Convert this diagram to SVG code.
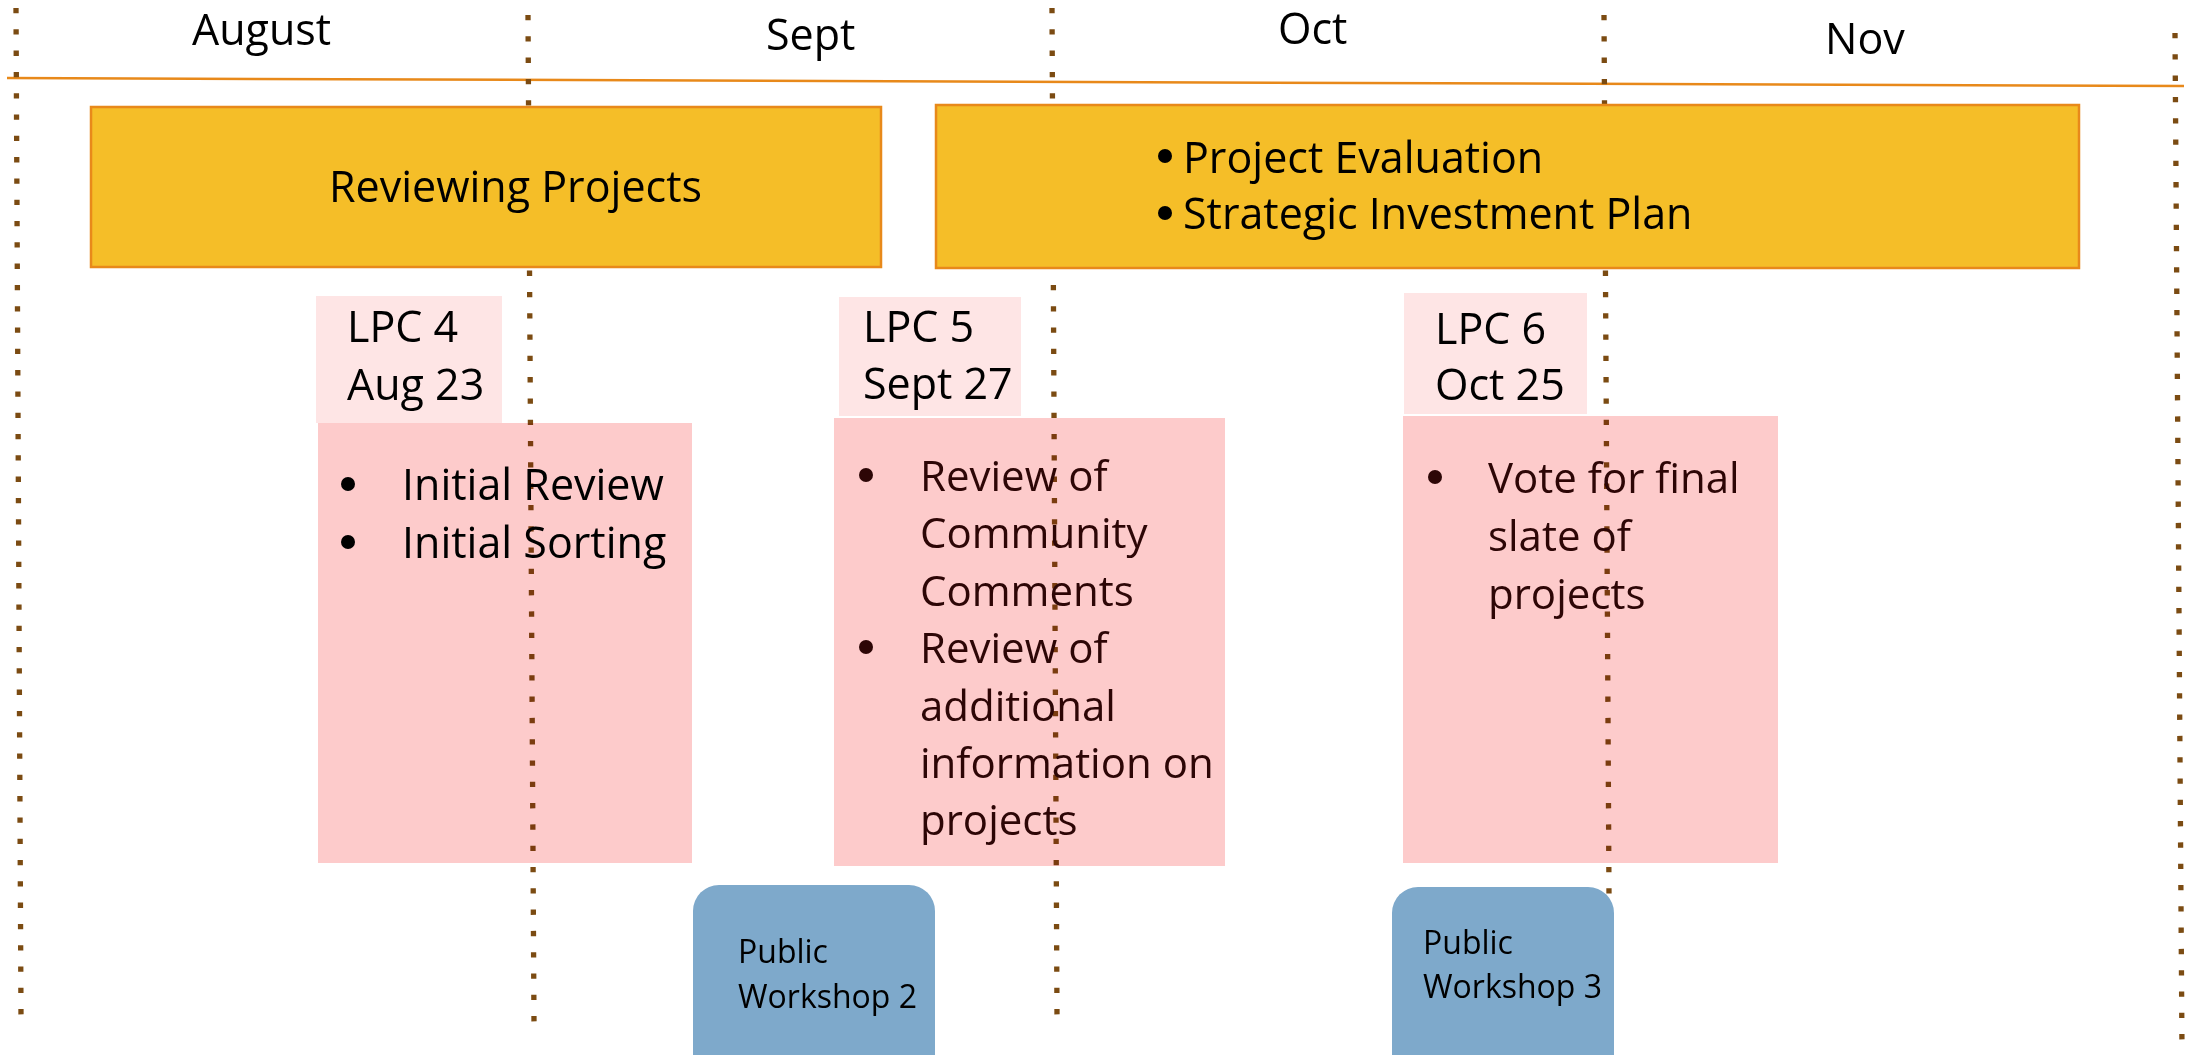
<svg xmlns="http://www.w3.org/2000/svg" width="2188" height="1055" viewBox="0 0 2188 1055">
  <style>
    text { font-family: "Open Sans", "Noto Sans", "Liberation Sans", sans-serif; }
    .month { font-size: 43px; fill: #000; }
    .phase { fill: #F5BE28; stroke: #E8891A; stroke-width: 2.5; }
    .phase-text { font-size: 43px; fill: #000; }
    .lpc { fill: #FEE5E5; }
    .lpc-text { font-size: 43px; fill: #000; }
    .tasks { fill: #FDCBCB; mix-blend-mode: multiply; }
    .task-text { font-size: 42px; fill: #2D0606; }
    .workshop { fill: #7EA9CB; }
    .workshop-text { font-size: 32px; fill: #000; }
    .divider { stroke: #7B4B12; stroke-width: 5.3; stroke-dasharray: 5.3 16; fill: none; }
    .axis { stroke: #E8891A; stroke-width: 2.5; fill: none; }
  </style>

  <rect width="2188" height="1055" fill="#fff"/>

  <!-- month headings -->
  <g id="months">
    <text class="month" x="192" y="45">August</text>
    <text class="month" x="766" y="50">Sept</text>
    <text class="month" x="1278" y="44">Oct</text>
    <text class="month" x="1825" y="54">Nov</text>
  </g>

  <!-- timeline axis -->
  <line class="axis" x1="7" y1="78" x2="2184" y2="86"/>

  <!-- month dividers -->
  <g id="dividers">
    <line class="divider" x1="16" y1="8" x2="21" y2="1015"/>
    <line class="divider" x1="528" y1="15" x2="534" y2="1022"/>
    <line class="divider" x1="1052" y1="8" x2="1057" y2="1015"/>
    <line class="divider" x1="1604" y1="15" x2="1609" y2="895"/>
    <line class="divider" x1="2175" y1="33" x2="2182" y2="1050"/>
  </g>

  <!-- phase bars -->
  <g id="phase-reviewing">
    <rect class="phase" x="91" y="107" width="790" height="160"/>
    <text class="phase-text" x="329" y="202">Reviewing Projects</text>
  </g>
  <g id="phase-evaluation">
    <rect class="phase" x="936" y="105" width="1143" height="163"/>
    <circle cx="1165" cy="156" r="7" fill="#000"/>
    <text class="phase-text" x="1183" y="173">Project Evaluation</text>
    <circle cx="1165" cy="213" r="7" fill="#000"/>
    <text class="phase-text" x="1183" y="229">Strategic Investment Plan</text>
  </g>

  <!-- LPC meeting 4 -->
  <g id="lpc4">
    <rect class="lpc" x="316" y="296" width="186" height="127"/>
    <text class="lpc-text" x="347" y="342">LPC 4</text>
    <text class="lpc-text" x="347" y="400">Aug 23</text>
  </g>
  <g id="lpc4-tasks">
    <rect class="tasks" x="318" y="423" width="374" height="440"/>
    <circle cx="348" cy="484" r="7" fill="#000"/>
    <text class="task-text" x="402" y="500" style="font-size:43px;fill:#000">Initial Review</text>
    <circle cx="348" cy="542" r="7" fill="#000"/>
    <text class="task-text" x="402" y="558" style="font-size:43px;fill:#000">Initial Sorting</text>
  </g>

  <!-- LPC meeting 5 -->
  <g id="lpc5">
    <rect class="lpc" x="839" y="297" width="182" height="119"/>
    <text class="lpc-text" x="863" y="342">LPC 5</text>
    <text class="lpc-text" x="863" y="399">Sept 27</text>
  </g>
  <g id="lpc5-tasks">
    <rect class="tasks" x="834" y="418" width="391" height="448"/>
    <circle cx="866" cy="475" r="7" fill="#2D0606"/>
    <text class="task-text" x="920" y="491">Review of</text>
    <text class="task-text" x="920" y="548">Community</text>
    <text class="task-text" x="920" y="606">Comments</text>
    <circle cx="866" cy="647" r="7" fill="#2D0606"/>
    <text class="task-text" x="920" y="663">Review of</text>
    <text class="task-text" x="920" y="721">additional</text>
    <text class="task-text" x="920" y="778">information on</text>
    <text class="task-text" x="920" y="835">projects</text>
  </g>

  <!-- LPC meeting 6 -->
  <g id="lpc6">
    <rect class="lpc" x="1404" y="293" width="183" height="121"/>
    <text class="lpc-text" x="1435" y="344">LPC 6</text>
    <text class="lpc-text" x="1435" y="400">Oct 25</text>
  </g>
  <g id="lpc6-tasks">
    <rect class="tasks" x="1403" y="416" width="375" height="447"/>
    <circle cx="1435" cy="477" r="7" fill="#2D0606"/>
    <text class="task-text" x="1488" y="493">Vote for final</text>
    <text class="task-text" x="1488" y="551">slate of</text>
    <text class="task-text" x="1488" y="609">projects</text>
  </g>

  <!-- public workshops -->
  <g id="workshop2">
    <rect class="workshop" x="693" y="885" width="242" height="200" rx="26" ry="26"/>
    <text class="workshop-text" x="738" y="963">Public</text>
    <text class="workshop-text" x="738" y="1008">Workshop 2</text>
  </g>
  <g id="workshop3">
    <rect class="workshop" x="1392" y="887" width="222" height="200" rx="26" ry="26"/>
    <text class="workshop-text" x="1423" y="954">Public</text>
    <text class="workshop-text" x="1423" y="998">Workshop 3</text>
  </g>
</svg>
